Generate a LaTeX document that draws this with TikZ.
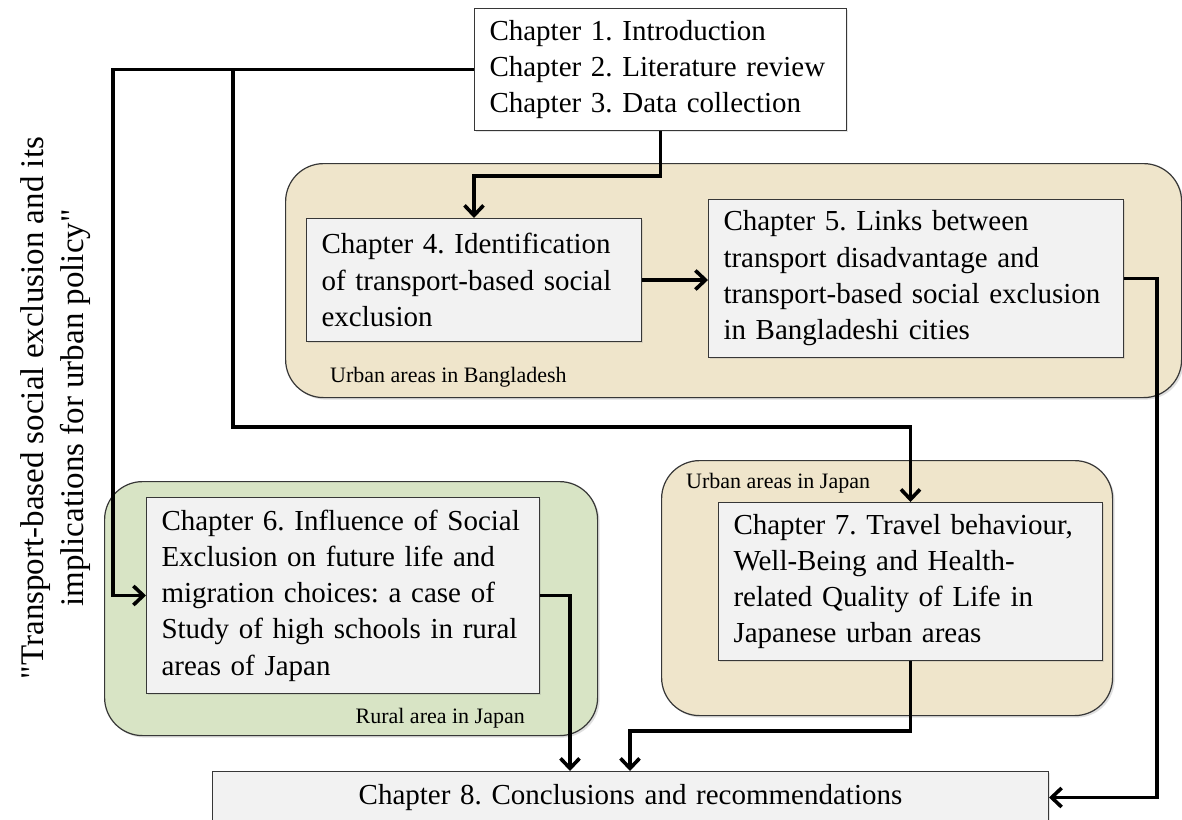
\documentclass[tikz,border=0pt]{standalone}
\usepackage{fontspec}
\setmainfont{Liberation Serif}
\newfontfamily\titlefont{Liberation Serif}[Ligatures=TeXOff]
\usetikzlibrary{arrows.meta,shadows}
\definecolor{tanfill}{RGB}{239,229,203}
\definecolor{olivefill}{RGB}{216,228,197}
\definecolor{boxfill}{RGB}{242,242,242}
\definecolor{rim}{RGB}{55,55,55}
\hyphenpenalty=10000
\exhyphenpenalty=10000

\begin{document}
\frenchspacing
\begin{tikzpicture}[x=1pt,y=-1pt,
  region/.style={draw=rim, line width=1.2pt, rounded corners=38pt, anchor=north west,
    inner sep=0pt, drop shadow={shadow xshift=2pt, shadow yshift=-2pt, opacity=0.25}},
  chbox/.style={draw=rim, line width=1pt, fill=boxfill, anchor=north west,
    inner xsep=15pt, inner ysep=0pt, align=left,
    drop shadow={shadow xshift=1.5pt, shadow yshift=-1.5pt, opacity=0.2},
    font=\fontsize{29}{36.3}\selectfont},
  tag/.style={font=\fontsize{22}{26}\selectfont, inner sep=0pt},
  arr/.style={line width=3.6pt, -{Straight Barb[length=10pt,width=19pt]}}]

\useasboundingbox (0,0) rectangle (1182,819);
\clip (0,0) rectangle (1182,819);
\fill[white] (0,0) rectangle (1182,819);

% study areas
\node[region, fill=tanfill, minimum width=896pt, minimum height=234pt] (bdarea) at (285,163) {};
\node[region, fill=tanfill, minimum width=451pt, minimum height=255pt] (jparea) at (661,460) {};
\node[region, fill=olivefill, minimum width=493pt, minimum height=254pt] (ruarea) at (104,481) {};

\node[tag, anchor=west] (bdtag) at (330,377) {Urban areas in Bangladesh};
\node[tag, anchor=west] (jptag) at (686,483) {Urban areas in Japan};
\node[tag, anchor=east] (rutag) at (525,718) {Rural area in Japan};

% chapters
\node[chbox, fill=white, text width=342pt, minimum height=122pt] (top) at (474,8)
  {Chapter 1. Introduction\\Chapter 2. Literature review\\Chapter 3. Data collection};
\node[chbox, text width=305pt, minimum height=123pt] (ch4) at (306,218)
  {Chapter 4. Identification\\of transport-based social\\exclusion};
\node[chbox, text width=385pt, minimum height=158pt] (ch5) at (708,199)
  {Chapter 5. Links between\\transport disadvantage and\\transport-based social exclusion\\in Bangladeshi cities};
\node[chbox, text width=363pt, minimum height=196pt] (ch6) at (146,497)
  {\mbox{Chapter 6. Influence of Social}\\Exclusion on future life and\\migration choices: a case of\\Study of high schools in rural\\areas of Japan};
\node[chbox, text width=354pt, minimum height=158pt] (ch7) at (718,502)
  {Chapter 7. Travel behaviour,\\Well-Being and Health-\\related Quality of Life in\\Japanese urban areas};
\node[chbox, align=center, text width=806pt, minimum height=52pt] (ch8) at (212,771)
  {Chapter 8. Conclusions and recommendations};

% thesis title
\node[rotate=90, align=center, font=\titlefont\fontsize{33}{40}\selectfont] (title) at (56,408)
  {"Transport-based social exclusion and its\\implications for urban policy"};

% flow of chapters
\coordinate (branch) at (233,69);
\draw[arr] (top.west) -- ++(-361,0) |- (ch6.west);
\draw[arr] (branch) -- ++(0,358) -| (ch7.north);
\draw[arr] (top.south) -- ++(0,45) -| (ch4.north);
\draw[arr] (ch4.east) -- (ch4.east -| ch5.west);
\draw[arr] (ch5.east) -- ++(33,0) |- (ch8.east);
\draw[arr] (ch6.east) -| ([xshift=358pt]ch8.north west);
\draw[arr] (ch7.south) -- ++(0,70) -| ([xshift=418pt]ch8.north west);
\end{tikzpicture}
\end{document}
